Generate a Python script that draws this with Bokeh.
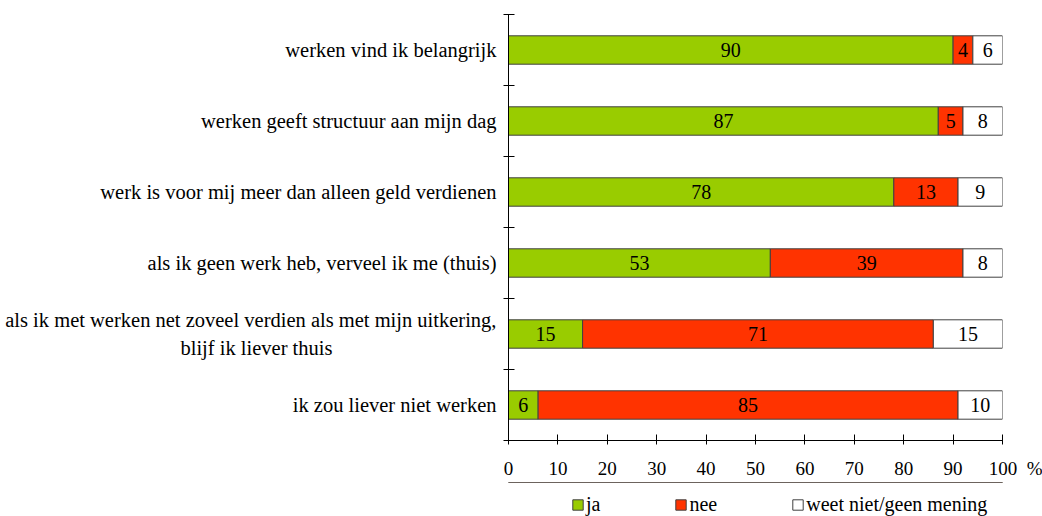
from bokeh.plotting import figure
from bokeh.layouts import column
from bokeh.models import ColumnDataSource, FixedTicker, Range1d, Legend, LegendItem
from bokeh.core.properties import value
from bokeh.embed import file_html
from bokeh.resources import INLINE

# ---- data (top to bottom) ----
categories = [
    "werken vind ik belangrijk",
    "werken geeft structuur aan mijn dag",
    "werk is voor mij meer dan alleen geld verdienen",
    "als ik geen werk heb, verveel ik me (thuis)",
    "als ik met werken net zoveel verdien als met mijn uitkering,\nblijf ik liever thuis",
    "ik zou liever niet werken",
]
ja = [90, 87, 78, 53, 15, 6]
nee = [4, 5, 13, 39, 71, 85]
weet = [6, 8, 9, 8, 15, 10]
series_names = ["ja", "nee", "weet niet/geen mening"]
colors = ["#99CC00", "#FF3300", "#FFFFFF"]
x_ticks = [0, 10, 20, 30, 40, 50, 60, 70, 80, 90, 100]
x_unit = "%"
total = 100

FONT = "Liberation Serif"
n = len(categories)
ypos = [n - i - 0.5 for i in range(n)]

# second line of the two-line label centred under the first (padding with em spaces)
def centre_lines(lbl):
    if "\n" not in lbl:
        return lbl
    a, b = lbl.split("\n")
    return a + "\n" + b + "\u2003" * 8

ja_l = [0] * n
ja_r = ja
nee_l = ja
nee_r = [a + b for a, b in zip(ja, nee)]
weet_l = nee_r
weet_r = [total] * n

src = ColumnDataSource(dict(
    y=ypos,
    ja_l=ja_l, ja_r=ja_r, nee_l=nee_l, nee_r=nee_r, weet_l=weet_l, weet_r=weet_r,
    ja_c=[(a + b) / 2 for a, b in zip(ja_l, ja_r)],
    nee_c=[(a + b) / 2 for a, b in zip(nee_l, nee_r)],
    weet_c=[(a + b) / 2 for a, b in zip(weet_l, weet_r)],
    ja_t=[str(v) for v in ja], nee_t=[str(v) for v in nee], weet_t=[str(v) for v in weet],
))

BORDER_L, BORDER_R = 508, 40

p = figure(
    width=1042, height=482,
    min_border_left=BORDER_L, min_border_right=BORDER_R, min_border_top=14, min_border_bottom=42,
    x_range=Range1d(0, 100), y_range=Range1d(0, n),
    output_backend="svg", toolbar_location=None,
    outline_line_color=None, background_fill_color="white",
)
p.xgrid.visible = False
p.ygrid.visible = False

for key, col in zip(["ja", "nee", "weet"], colors):
    p.hbar(y="y", left=key + "_l", right=key + "_r", height=0.4, source=src,
           fill_color=col, line_color="#404040", line_width=1)
    p.text(x=key + "_c", y="y", text=key + "_t", source=src,
           text_align="center", text_baseline="middle",
           text_font=value(FONT), text_font_size="20px", text_color="black")

# x axis
xa = p.xaxis[0]
xa.ticker = FixedTicker(ticks=x_ticks)
xa.major_label_overrides = {x_ticks[-1]: "\u2003\u2009\u2009" + str(x_ticks[-1]) + "\u2002" + x_unit}
xa.minor_tick_line_color = None
xa.major_tick_in = 6
xa.major_tick_out = 4
xa.axis_line_color = "black"
xa.major_tick_line_color = "black"
xa.major_label_text_font = FONT
xa.major_label_text_font_size = "19px"
xa.major_label_text_color = "black"
xa.major_label_standoff = 13

# y axis
ya = p.yaxis[0]
ya.ticker = FixedTicker(ticks=ypos, minor_ticks=list(range(n + 1)))
ya.major_label_overrides = {y: centre_lines(c) for y, c in zip(ypos, categories)}
ya.major_tick_in = 0
ya.major_tick_out = 0
ya.minor_tick_in = 6
ya.minor_tick_out = 5
ya.minor_tick_line_color = "black"
ya.axis_line_color = "black"
ya.major_label_text_font = FONT
ya.major_label_text_font_size = "20.5px"
ya.major_label_text_color = "black"
ya.major_label_text_line_height = 1.25
ya.major_label_standoff = 7

# ---- legend strip below the chart ----
lg = figure(
    width=1042, height=34,
    min_border_left=BORDER_L, min_border_right=BORDER_R, min_border_top=0, min_border_bottom=0,
    x_range=Range1d(0, 1), y_range=Range1d(0, 1),
    x_axis_type=None, y_axis_type=None,
    output_backend="svg", toolbar_location=None,
    outline_line_color=None, background_fill_color="white",
)
lg.xgrid.visible = False
lg.ygrid.visible = False
# legend proxies, kept outside the strip's visible range
proxy = ColumnDataSource(dict(y=[5], left=[0], right=[1]))
leg_renderers = [
    lg.hbar(y="y", left="left", right="right", height=0.4, source=proxy,
            fill_color=col, line_color="#404040", line_width=1)
    for col in colors
]
legend = Legend(
    items=[LegendItem(label=nm, renderers=[r]) for nm, r in zip(series_names, leg_renderers)],
    orientation="horizontal", location=(63, 0),
    glyph_width=13, glyph_height=13, label_standoff=2, label_width=1, spacing=74,
    padding=0, margin=0, border_line_color=None, background_fill_alpha=0,
    label_text_font=FONT, label_text_font_size="20px", label_text_color="black",
)
lg.add_layout(legend, "center")

layout = column(p, lg, spacing=0)
open("out.html", "w").write(file_html(layout, INLINE))
